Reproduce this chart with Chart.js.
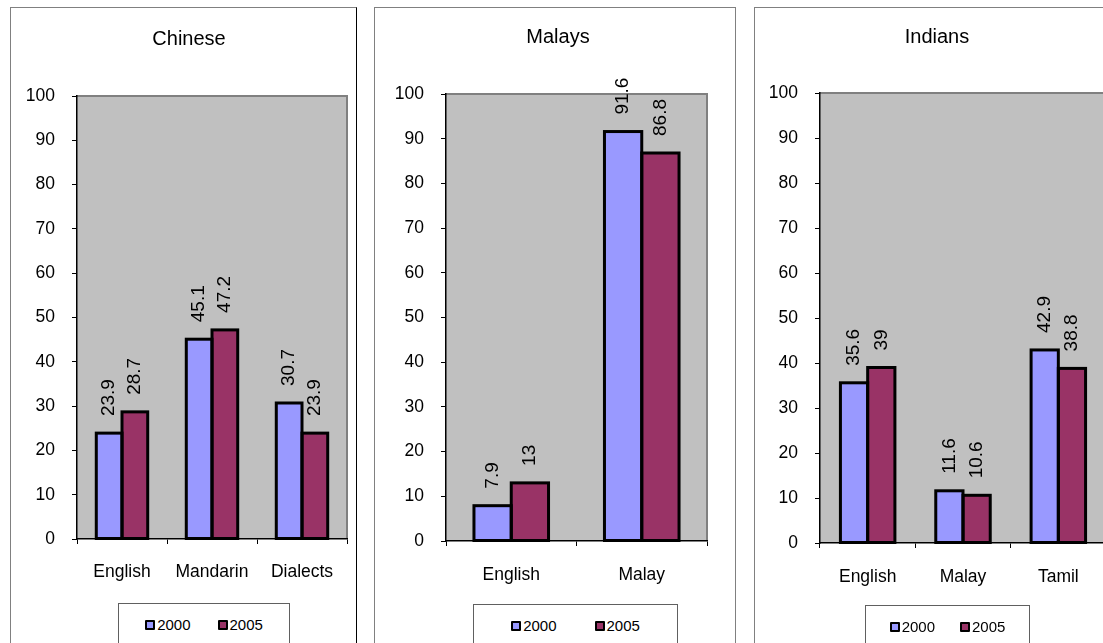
<!DOCTYPE html>
<html>

<head>
    <title>Home language by ethnic group</title>
    <script src="https://cdn.jsdelivr.net/npm/chart.js"></script>
    <style>
        body { margin: 0; width: 1103px; height: 643px; overflow: hidden; background: #fff; position: relative;
               font-family: Arial, "Liberation Sans", sans-serif; }
        .panel { position: absolute; top: 7px; height: 660px; border: 1px solid #808080; border-bottom: none; box-sizing: border-box; }
        .chartbox { position: absolute; top: 7px; }
        .legend { position: absolute; height: 60px; border: 1px solid #606060; background: #fff; box-sizing: border-box; }
        .legend .items { position: absolute; top: 12px; left: 0; right: 0; display: flex; justify-content: center;
                         font-size: 15px; line-height: 18px; color: #000; }
        .legend .item { display: flex; align-items: center; }
        .legend .sw { width: 6px; height: 6px; border: 2px solid #000; border-radius: 1px; margin-right: 2px; }
    </style>
</head>

<body>
    <div class="panel" style="left:10px; width:347px; border-right-color:#000"></div>
    <div class="panel" style="left:374px; width:362px"></div>
    <div class="panel" style="left:754px; width:363px"></div>

    <div class="chartbox" style="left:10px"><canvas id="chinese" width="347" height="636"></canvas></div>
    <div class="chartbox" style="left:374px"><canvas id="malays" width="362" height="636"></canvas></div>
    <div class="chartbox" style="left:754px"><canvas id="indians" width="363" height="636"></canvas></div>

    <div class="legend" id="leg1" style="left:118px; top:603px; width:172px"></div>
    <div class="legend" id="leg2" style="left:473px; top:604px; width:205px"></div>
    <div class="legend" id="leg3" style="left:865px; top:605px; width:165px"></div>

    <script>
        // language most frequently spoken at home, % of resident population
        const seriesNames = ['2000', '2005'];
        const seriesColors = ['#9999FF', '#993366'];

        const chineseLangs = ['English', 'Mandarin', 'Dialects'];
        const chinese2000 = [23.9, 45.1, 30.7];
        const chinese2005 = [28.7, 47.2, 23.9];

        const malayLangs = ['English', 'Malay'];
        const malays2000 = [7.9, 91.6];
        const malays2005 = [13, 86.8];

        const indianLangs = ['English', 'Malay', 'Tamil'];
        const indians2000 = [35.6, 11.6, 42.9];
        const indians2005 = [39, 10.6, 38.8];

        const yMin = 0, yMax = 100, yStep = 10;

        const FONT = 'Arial, "Liberation Sans", sans-serif';
        Chart.defaults.font.family = FONT;
        Chart.defaults.color = '#000';

        // grey plot area with a darker frame on top and right
        const plotArea = {
            id: 'plotArea',
            beforeDraw(chart) {
                const { ctx, chartArea: a } = chart;
                ctx.save();
                ctx.fillStyle = '#C0C0C0';
                ctx.fillRect(a.left, a.top, a.right - a.left, a.bottom - a.top);
                ctx.strokeStyle = '#808080';
                ctx.lineWidth = 2;
                ctx.beginPath();
                ctx.moveTo(a.left, a.top);
                ctx.lineTo(a.right, a.top);
                ctx.lineTo(a.right, a.bottom);
                ctx.stroke();
                ctx.restore();
            }
        };

        // black outlines centred on the bar edges, and vertical value labels
        const barDecor = {
            id: 'barDecor',
            afterDatasetsDraw(chart) {
                const ctx = chart.ctx;
                ctx.save();
                chart.data.datasets.forEach((ds, i) => {
                    chart.getDatasetMeta(i).data.forEach((bar, j) => {
                        const { x, y, base, width } = bar.getProps(['x', 'y', 'base', 'width'], true);
                        ctx.strokeStyle = '#000';
                        ctx.lineWidth = 3;
                        ctx.strokeRect(x - width / 2, y, width, base - y);

                        ctx.save();
                        ctx.translate(x, y - 17);
                        ctx.rotate(-Math.PI / 2);
                        ctx.fillStyle = '#000';
                        ctx.font = '19px ' + FONT;
                        ctx.textAlign = 'left';
                        ctx.textBaseline = 'middle';
                        ctx.fillText(String(ds.data[j]), 0, 0);
                        ctx.restore();
                    });
                });
                ctx.restore();
            }
        };

        // panel title, centred on the chart box rather than on the plot
        const panelTitle = {
            id: 'panelTitle',
            afterDraw(chart, args, opts) {
                const ctx = chart.ctx;
                ctx.save();
                ctx.fillStyle = '#000';
                ctx.font = '20px ' + FONT;
                ctx.textAlign = 'center';
                ctx.textBaseline = 'middle';
                ctx.fillText(opts.text, opts.x, opts.y);
                ctx.restore();
            }
        };

        function makeChart(id, title, labels, v2000, v2005, lay) {
            new Chart(document.getElementById(id), {
                type: 'bar',
                data: {
                    labels: labels,
                    datasets: [v2000, v2005].map((vals, i) => ({
                        label: seriesNames[i],
                        data: vals,
                        backgroundColor: seriesColors[i],
                        borderWidth: 0,
                        categoryPercentage: 2 / 3.5,
                        barPercentage: 1
                    }))
                },
                options: {
                    responsive: false,
                    animation: false,
                    devicePixelRatio: 1,
                    layout: { padding: { left: 0, right: lay.pr, top: lay.top, bottom: 0 } },
                    plugins: {
                        legend: { display: false },
                        tooltip: { enabled: false },
                        title: { display: false },
                        panelTitle: { text: title, x: lay.tx, y: lay.ty }
                    },
                    scales: {
                        x: {
                            grid: { offset: true, drawOnChartArea: false, color: '#000', tickLength: 5 },
                            border: { color: '#000', width: 1.5 },
                            ticks: { color: '#000', font: { size: 17.5 }, padding: lay.xp, maxRotation: 0 },
                            afterFit(s) { s.height = lay.xh; }
                        },
                        y: {
                            min: yMin,
                            max: yMax,
                            ticks: { stepSize: yStep, color: '#000', font: { size: 17.5 }, padding: 17 },
                            grid: { drawOnChartArea: false, color: '#000', tickLength: 5 },
                            border: { color: '#000', width: 1.5 },
                            afterFit(s) { s.width = lay.yw; }
                        }
                    }
                },
                plugins: [plotArea, barDecor, panelTitle]
            });
        }

        function makeLegend(id, gap) {
            const box = document.getElementById(id);
            const items = document.createElement('div');
            items.className = 'items';
            items.style.gap = gap + 'px';
            seriesNames.forEach((name, i) => {
                const it = document.createElement('div');
                it.className = 'item';
                const sw = document.createElement('span');
                sw.className = 'sw';
                sw.style.background = seriesColors[i];
                it.appendChild(sw);
                it.appendChild(document.createTextNode(name));
                items.appendChild(it);
            });
            box.appendChild(items);
        }

        makeChart('chinese', 'Chinese', chineseLangs, chinese2000, chinese2005,
            { pr: 10, top: 89, yw: 67, xh: 104, xp: 18, tx: 179, ty: 32 });
        makeChart('malays', 'Malays', malayLangs, malays2000, malays2005,
            { pr: 29, top: 87, yw: 72, xh: 102, xp: 19, tx: 184, ty: 30 });
        makeChart('indians', 'Indians', indianLangs, indians2000, indians2005,
            { pr: 11, top: 86, yw: 66, xh: 100, xp: 19, tx: 183, ty: 30 });

        makeLegend('leg1', 27);
        makeLegend('leg2', 38);
        makeLegend('leg3', 25);
    </script>

</body>

</html>
